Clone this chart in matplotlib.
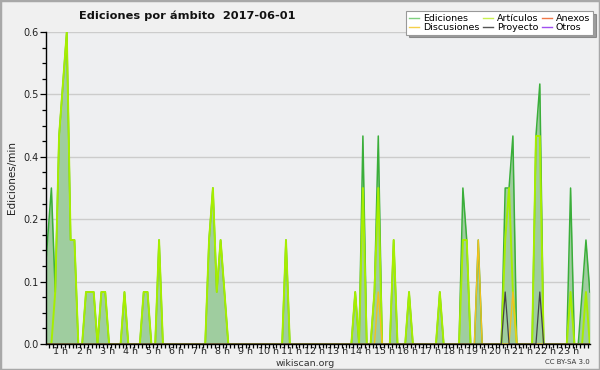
import numpy as np
import matplotlib
matplotlib.use("Agg")
import matplotlib.pyplot as plt
from matplotlib.ticker import FixedLocator, FuncFormatter
from matplotlib.lines import Line2D
from matplotlib.patches import Rectangle

title = "Ediciones por ámbito  2017-06-01"
ylabel = "Ediciones/min"
series_names = ["Ediciones", "Artículos", "Anexos", "Discusiones", "Proyecto", "Otros"]
hour_labels = [f"{h} h" for h in range(1, 24)]

# edits per minute, one value per 10-minute bin (00:00 .. 23:50)
ediciones = [
    0, 0.1, 0.2, 0.3, 0.1, 0.4, 0.5, 0.6, 0.2, 0.2, 0, 0,
    0.1, 0.1, 0.1, 0, 0.1, 0.1, 0, 0, 0, 0, 0.1, 0,
    0, 0, 0, 0.1, 0.1, 0, 0, 0.2, 0, 0, 0, 0,
    0, 0, 0, 0, 0, 0, 0, 0, 0.2, 0.3, 0.1, 0.2,
    0.1, 0, 0, 0, 0, 0, 0, 0, 0, 0, 0, 0,
    0, 0, 0, 0, 0.2, 0, 0, 0, 0, 0, 0, 0,
    0, 0, 0, 0, 0, 0, 0, 0, 0, 0, 0.1, 0,
    0.4, 0, 0, 0.1, 0.4, 0, 0, 0, 0.2, 0, 0, 0,
    0.1, 0, 0, 0, 0, 0, 0, 0, 0.1, 0, 0, 0,
    0, 0, 0.3, 0.2, 0, 0, 0.2, 0, 0, 0, 0, 0,
    0, 0.3, 0.3, 0.4, 0, 0, 0, 0, 0, 0.4, 0.5, 0,
    0, 0, 0, 0, 0, 0, 0.3, 0, 0, 0.1, 0.2, 0.1,
]
articulos = [
    0, 0, 0, 0, 0.1, 0.4, 0.5, 0.6, 0.2, 0.2, 0, 0,
    0.1, 0.1, 0.1, 0, 0.1, 0.1, 0, 0, 0, 0, 0.1, 0,
    0, 0, 0, 0.1, 0.1, 0, 0, 0.2, 0, 0, 0, 0,
    0, 0, 0, 0, 0, 0, 0, 0, 0.2, 0.3, 0.1, 0.2,
    0.1, 0, 0, 0, 0, 0, 0, 0, 0, 0, 0, 0,
    0, 0, 0, 0, 0.2, 0, 0, 0, 0, 0, 0, 0,
    0, 0, 0, 0, 0, 0, 0, 0, 0, 0, 0.1, 0,
    0.3, 0, 0, 0.1, 0.3, 0, 0, 0, 0.2, 0, 0, 0,
    0.1, 0, 0, 0, 0, 0, 0, 0, 0.1, 0, 0, 0,
    0, 0, 0.2, 0.2, 0, 0, 0, 0, 0, 0, 0, 0,
    0, 0.2, 0.3, 0.1, 0, 0, 0, 0, 0, 0.4, 0.4, 0,
    0, 0, 0, 0, 0, 0, 0.1, 0, 0, 0, 0.1, 0,
]
anexos = [
    0, 0, 0, 0, 0, 0, 0, 0, 0, 0, 0, 0,
    0, 0, 0, 0, 0, 0, 0, 0, 0, 0, 0, 0,
    0, 0, 0, 0, 0, 0, 0, 0, 0, 0, 0, 0,
    0, 0, 0, 0, 0, 0, 0, 0, 0, 0, 0, 0,
    0, 0, 0, 0, 0, 0, 0, 0, 0, 0, 0, 0,
    0, 0, 0, 0, 0, 0, 0, 0, 0, 0, 0, 0,
    0, 0, 0, 0, 0, 0, 0, 0, 0, 0, 0, 0,
    0, 0, 0, 0, 0, 0, 0, 0, 0, 0, 0, 0,
    0, 0, 0, 0, 0, 0, 0, 0, 0, 0, 0, 0,
    0, 0, 0, 0, 0, 0, 0, 0, 0, 0, 0, 0,
    0, 0, 0, 0, 0, 0, 0, 0, 0, 0, 0, 0,
    0, 0, 0, 0, 0, 0, 0, 0, 0, 0, 0, 0,
]
discusiones = [
    0, 0, 0, 0, 0, 0, 0, 0, 0, 0, 0, 0,
    0, 0, 0, 0, 0, 0, 0, 0, 0, 0, 0, 0,
    0, 0, 0, 0, 0, 0, 0, 0, 0, 0, 0, 0,
    0, 0, 0, 0, 0, 0, 0, 0, 0, 0, 0, 0,
    0, 0, 0, 0, 0, 0, 0, 0, 0, 0, 0, 0,
    0, 0, 0, 0, 0, 0, 0, 0, 0, 0, 0, 0,
    0, 0, 0, 0, 0, 0, 0, 0, 0, 0, 0, 0,
    0, 0, 0, 0, 0.1, 0, 0, 0, 0, 0, 0, 0,
    0, 0, 0, 0, 0, 0, 0, 0, 0, 0, 0, 0,
    0, 0, 0, 0, 0, 0, 0.2, 0, 0, 0, 0, 0,
    0, 0, 0, 0.1, 0, 0, 0, 0, 0, 0, 0, 0,
    0, 0, 0, 0, 0, 0, 0, 0, 0, 0, 0, 0,
]
proyecto = [
    0, 0, 0, 0, 0, 0, 0, 0, 0, 0, 0, 0,
    0, 0, 0, 0, 0, 0, 0, 0, 0, 0, 0, 0,
    0, 0, 0, 0, 0, 0, 0, 0, 0, 0, 0, 0,
    0, 0, 0, 0, 0, 0, 0, 0, 0, 0, 0, 0,
    0, 0, 0, 0, 0, 0, 0, 0, 0, 0, 0, 0,
    0, 0, 0, 0, 0, 0, 0, 0, 0, 0, 0, 0,
    0, 0, 0, 0, 0, 0, 0, 0, 0, 0, 0, 0,
    0, 0, 0, 0, 0, 0, 0, 0, 0, 0, 0, 0,
    0, 0, 0, 0, 0, 0, 0, 0, 0, 0, 0, 0,
    0, 0, 0, 0, 0, 0, 0, 0, 0, 0, 0, 0,
    0, 0.1, 0, 0, 0, 0, 0, 0, 0, 0, 0.1, 0,
    0, 0, 0, 0, 0, 0, 0, 0, 0, 0, 0, 0,
]
otros = [
    0, 0, 0, 0, 0, 0, 0, 0, 0, 0, 0, 0,
    0, 0, 0, 0, 0, 0, 0, 0, 0, 0, 0, 0,
    0, 0, 0, 0, 0, 0, 0, 0, 0, 0, 0, 0,
    0, 0, 0, 0, 0, 0, 0, 0, 0, 0, 0, 0,
    0, 0, 0, 0, 0, 0, 0, 0, 0, 0, 0, 0,
    0, 0, 0, 0, 0, 0, 0, 0, 0, 0, 0, 0,
    0, 0, 0, 0, 0, 0, 0, 0, 0, 0, 0, 0,
    0, 0, 0, 0, 0, 0, 0, 0, 0, 0, 0, 0,
    0, 0, 0, 0, 0, 0, 0, 0, 0, 0, 0, 0,
    0, 0, 0, 0, 0, 0, 0, 0, 0, 0, 0, 0,
    0, 0, 0, 0, 0, 0, 0, 0, 0, 0, 0, 0,
    0, 0, 0, 0, 0, 0, 0, 0, 0, 0, 0, 0,
]

bins_per_hour = 6
x = (np.arange(len(ediciones)) + 0.5) / bins_per_hour

c_edic = "#3aae3a"
c_art = "#a6ee00"
c_anex = "#f07848"
c_disc = "#f2c21e"
c_proy = "#444444"
c_otros = "#9a48e8"
c_fill = "#9fcd9f"

fig = plt.figure(figsize=(6, 3.7), dpi=100)
fig.patch.set_facecolor("#f0f0f0")
fig.patches.append(Rectangle((0, 0), 1, 1, transform=fig.transFigure,
                             fill=False, edgecolor="#a8a8a8", linewidth=2.5))

ax = fig.add_axes([46 / 600, 1 - 344 / 370, 544 / 600, 312 / 370])
ax.set_facecolor("#eeeff1")

ax.fill_between(x, 0, ediciones, color=c_fill, linewidth=0, zorder=2)
ax.plot(x, ediciones, color=c_edic, lw=1.1, zorder=3)
ax.plot(x, articulos, color=c_art, lw=1.4, zorder=4)
ax.plot(x, anexos, color=c_anex, lw=0.9, zorder=4)
ax.plot(x, discusiones, color=c_disc, lw=1.0, zorder=5)
ax.plot(x, proyecto, color=c_proy, lw=0.9, zorder=5)
ax.plot(x, otros, color=c_otros, lw=0.9, zorder=4)

ax.set_xlim(0.35, 23.925)
ax.set_ylim(0, 0.6)

yt = np.arange(0, 0.61, 0.12)
ax.yaxis.set_major_locator(FixedLocator(yt))
ax.yaxis.set_minor_locator(FixedLocator(np.arange(0, 0.601, 0.03)))
ax.yaxis.set_major_formatter(FuncFormatter(lambda v, p: f"{v:.1f}"))
ax.grid(axis="y", which="major", color="#cccccc", linewidth=1.0, zorder=1)
ax.set_axisbelow(True)

ax.xaxis.set_major_locator(FixedLocator(np.arange(1, 24)))
ax.set_xticklabels(hour_labels)
ax.xaxis.set_minor_locator(FixedLocator(np.arange(0, 24.01, 1 / 6)))

ax.tick_params(axis="both", which="both", direction="out", colors="black",
               labelcolor="#222222", width=0.9)
ax.tick_params(axis="x", which="both", length=2.6, pad=-0.5, labelsize=6.8)
ax.tick_params(axis="y", which="major", length=4, pad=1, labelsize=7)
ax.tick_params(axis="y", which="minor", length=3)

for s in ["top", "right"]:
    ax.spines[s].set_visible(False)
for s in ["left", "bottom"]:
    ax.spines[s].set_color("black")
    ax.spines[s].set_linewidth(1.0)
    ax.spines[s].set_zorder(10)

fig.text(187 / 600, 1 - 16 / 370, title, ha="center", va="center",
         fontsize=8.2, fontweight="bold", color="#111111")
fig.text(12 / 600, 1 - 178 / 370, ylabel, rotation=90, ha="center",
         va="center", fontsize=7.5, color="#222222")
fig.text(305 / 600, 1 - 363 / 370, "wikiscan.org", ha="center", va="center",
         fontsize=6.8, color="#333333")
fig.text(590 / 600, 1 - 362.5 / 370, "CC BY-SA 3.0", ha="right", va="center",
         fontsize=5, color="#333333")

handles = [
    Line2D([], [], color="#7fd07f", lw=1),
    Line2D([], [], color="#f5d04a", lw=1),
    Line2D([], [], color="#c8f050", lw=1),
    Line2D([], [], color="#555555", lw=1),
    Line2D([], [], color="#f07848", lw=1),
    Line2D([], [], color="#a050f0", lw=1),
]
labels = ["Ediciones", "Discusiones", "Artículos", "Proyecto", "Anexos", "Otros"]
leg = fig.legend(handles, labels, ncol=3, loc="upper right",
                 bbox_to_anchor=(593 / 600, 1 - 11 / 370), fontsize=6.8,
                 frameon=True, fancybox=False, shadow=True,
                 handlelength=1.1, handletextpad=0.4, columnspacing=0.35,
                 labelspacing=0.0, borderpad=0.3, borderaxespad=0)
leg.get_frame().set_edgecolor("#999999")
leg.get_frame().set_facecolor("white")
leg.get_frame().set_linewidth(0.8)

fig.savefig("out.png", dpi=100, facecolor=fig.get_facecolor())
